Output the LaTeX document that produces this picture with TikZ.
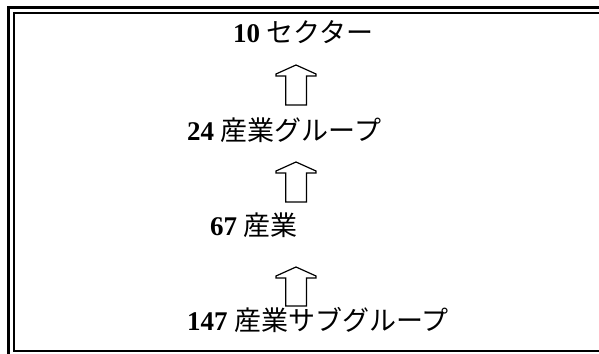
\documentclass[tikz,border=0pt]{standalone}
\usepackage{fontspec}
\setmainfont{Liberation Serif}
\newfontfamily\jpfont{Noto Sans CJK JP}
\tikzset{
  lbl/.style={anchor=base west, inner sep=0pt, font=\fontsize{27}{31}\selectfont},
  blockarrow/.style={draw=black, line width=1.2pt, line join=miter, fill=white},
  pics/uparr/.style={code={
    \draw[blockarrow] (0,0) -- (-20,9) -- (-20,11) -- (-10.3,11) -- (-10.3,#1)
      -- (10.5,#1) -- (10.5,11) -- (20,11) -- (20,9) -- cycle;}}
}
\begin{document}
\begin{tikzpicture}[x=1pt,y=-1pt]
\useasboundingbox (0,0) rectangle (599,353);
\fill[white] (0,0) rectangle (599,353);
\begin{scope}
\clip (0,0) rectangle (599,353);
\draw[line width=3pt, line cap=butt] (8.5,360) -- (8.5,7.5) -- (620,7.5);
\draw[line width=1.5pt] (13.8,351.2) rectangle (620,13);
\end{scope}
\node[lbl] (n10) at (233,43) {\textbf{10} {\jpfont セクター}};
\node[lbl] (n24) at (187,140) {\textbf{24} {\jpfont 産業グループ}};
\node[lbl] (n67) at (210,235) {\textbf{67} {\jpfont 産業}};
\node[lbl] (n147) at (187,330) {\textbf{147} {\jpfont 産業サブグループ}};
\coordinate (a1) at (296,65);
\coordinate (a2) at (296,162);
\coordinate (a3) at (296,267);
\pic at (a1) {uparr=40};
\pic at (a2) {uparr=40};
\pic at (a3) {uparr=39};
\end{tikzpicture}
\end{document}
